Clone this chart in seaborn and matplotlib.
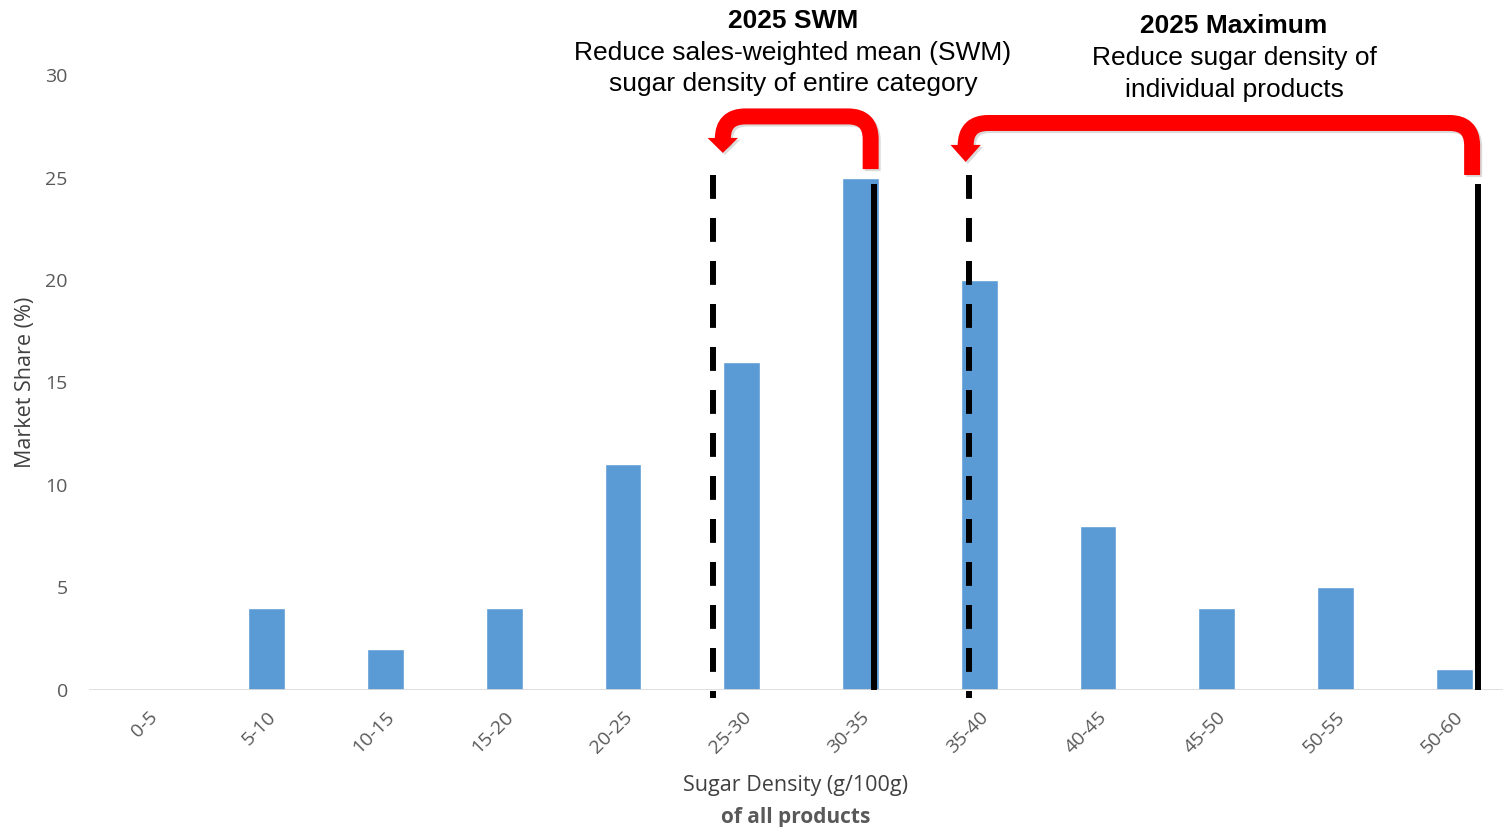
import matplotlib
matplotlib.use("Agg")
import matplotlib.pyplot as plt
from matplotlib.path import Path
from matplotlib.patches import PathPatch, Polygon
import matplotlib.patheffects as pe
import pandas as pd
import seaborn as sns

# Sugar density bands and their market share
bands = ["0-5", "5-10", "10-15", "15-20", "20-25", "25-30",
         "30-35", "35-40", "40-45", "45-50", "50-55", "50-60"]
share = [0, 4, 2, 4, 11, 16, 25, 20, 8, 4, 5, 1]
y_ticks = [0, 5, 10, 15, 20, 25, 30]

# Reference lines on the band axis: current vs 2025 targets
swm_target, swm_current = 4.76, 6.11
max_target, max_current = 6.91, 11.20

BAR = "#5B9BD5"
RED = "#FF0000"
GREY = "#595959"

sns.set_theme(style="white")
plt.rcParams["font.family"] = ["Open Sans", "DejaVu Sans"]

df = pd.DataFrame({"band": bands, "share": share})

fig = plt.figure(figsize=(15.03, 8.27), dpi=100)
ax = fig.add_axes([0.059, 0.1657, 0.941, 0.7436])

sns.barplot(data=df, x="band", y="share", color=BAR, width=0.31,
            saturation=1, ax=ax)

ax.set_xlim(-0.5, 11.41)
ax.set_ylim(0, 30)
ax.set_yticks(y_ticks)
for s in ax.spines.values():
    s.set_visible(False)
ax.axhline(0, color="#D9D9D9", lw=1.2, zorder=1)

ax.tick_params(axis="y", length=0, pad=15, labelsize=14, labelcolor=GREY)
ax.tick_params(axis="x", length=0, pad=13, labelsize=14, labelcolor=GREY)
for lab in ax.get_xticklabels():
    lab.set_rotation(45)
    lab.set_ha("right")
    lab.set_rotation_mode("anchor")

ax.set_ylabel("Market Share (%)", fontsize=15.5, color="#404040", labelpad=7)
ax.set_xlabel("Sugar Density (g/100g)", fontsize=15.5, color="#404040", labelpad=13)
ax.text(0.5, -0.207, "of all products", transform=ax.transAxes, ha="center",
        va="center", fontsize=15, color=GREY, fontweight="bold")

# Vertical marker lines
dash = (0, (4, 3.2))
for xv in (swm_target, max_target):
    ax.plot([xv, xv], [25.1, -0.4], color="black", lw=4.3, ls=dash,
            solid_capstyle="butt", dash_capstyle="butt", clip_on=False, zorder=4)
for xv in (swm_current, max_current):
    ax.plot([xv, xv], [0, 24.7], color="black", lw=4.3,
            solid_capstyle="butt", clip_on=False, zorder=4)


def bent_arrow(x_start, x_end, y_start, y_top, y_head, y_tip):
    """Thick red arrow: up from x_start, across, down to x_end."""
    rx, ry = 0.19, 1.1
    verts = [
        (x_start, y_start), (x_start, y_top - ry),
        (x_start, y_top), (x_start - rx, y_top),
        (x_end + rx, y_top),
        (x_end, y_top), (x_end, y_top - ry),
        (x_end, y_head),
    ]
    codes = [Path.MOVETO, Path.LINETO, Path.CURVE3, Path.CURVE3,
             Path.LINETO, Path.CURVE3, Path.CURVE3, Path.LINETO]
    body = PathPatch(Path(verts, codes), fill=False, edgecolor=RED, lw=11.5,
                     capstyle="butt", joinstyle="round", clip_on=False,
                     zorder=5)
    body.set_path_effects([pe.SimpleLineShadow(offset=(1.5, -1.5),
                                               shadow_color="0.6", alpha=0.35),
                           pe.Normal()])
    ax.add_patch(body)
    hw = 0.128
    head = Polygon([(x_end - hw, y_head), (x_end + hw, y_head), (x_end, y_tip)],
                   closed=True, facecolor=RED, edgecolor="none", clip_on=False,
                   zorder=5)
    head.set_path_effects([pe.SimplePatchShadow(offset=(1.5, -1.5),
                                                shadow_rgbFace="0.6", alpha=0.35),
                           pe.Normal()])
    ax.add_patch(head)


bent_arrow(swm_current - 0.025, swm_target + 0.08, 25.41, 27.98, 26.93, 26.2)
bent_arrow(max_current - 0.05, max_target - 0.025, 25.12, 27.66, 26.59, 25.76)

# Annotation headings
title_font = ["Liberation Sans", "DejaVu Sans"]
W, H = 1503, 827
def ftext(x, y, s, **kw):
    fig.text(x / W, 1 - y / H, s, ha="center", va="center", family=title_font,
             color="black", **kw)

ftext(793, 21, "2025 SWM", fontsize=19, fontweight="bold")
ftext(793, 53, "Reduce sales-weighted mean (SWM)", fontsize=19)
ftext(793, 84, "sugar density of entire category", fontsize=19)
ftext(1234, 26, "2025 Maximum", fontsize=19, fontweight="bold")
ftext(1234, 58, "Reduce sugar density of", fontsize=19)
ftext(1234, 90, "individual products", fontsize=19)

fig.savefig("out.png", dpi=100)
